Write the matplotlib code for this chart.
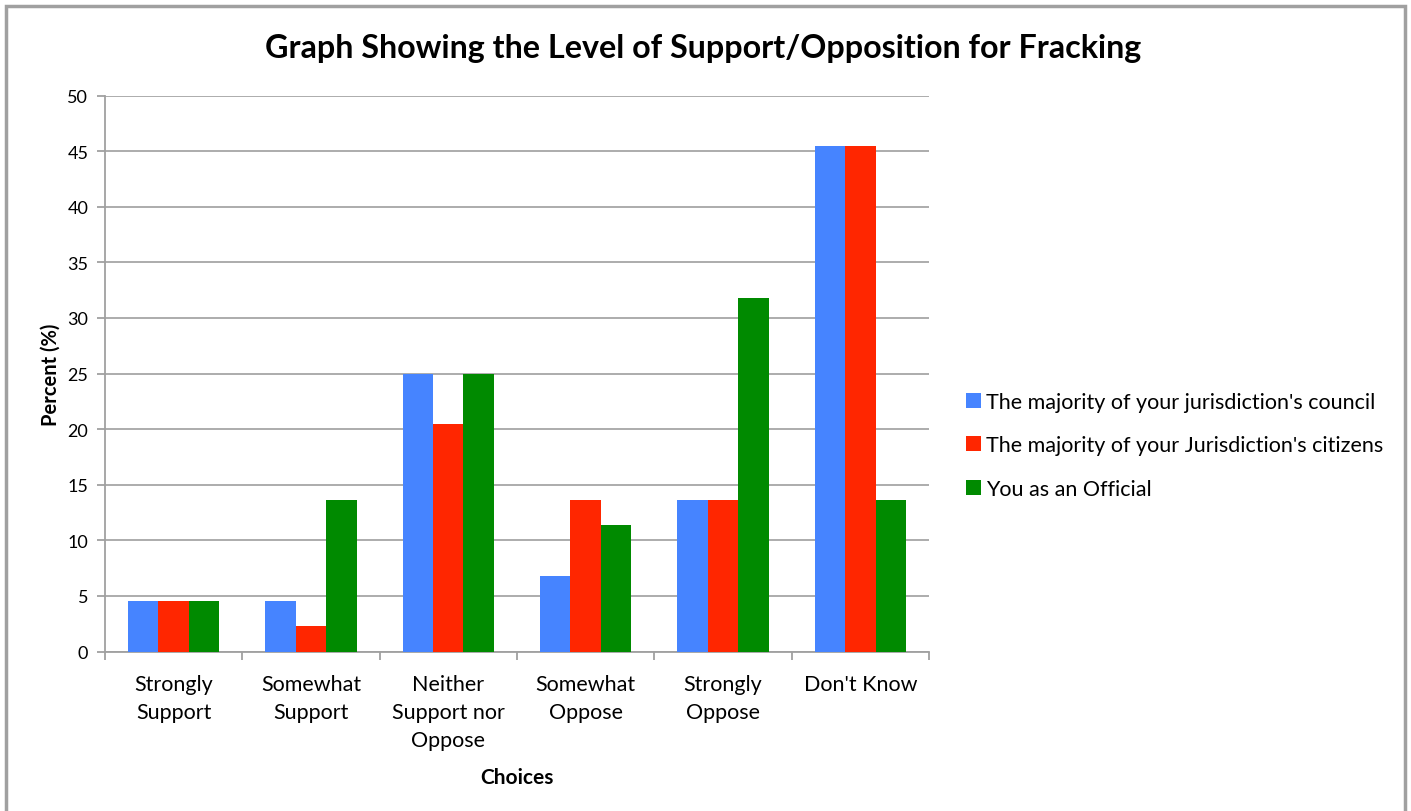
import numpy as np
import matplotlib.pyplot as plt
from matplotlib.patches import Rectangle

plt.rcParams['font.family'] = ['Lato', 'DejaVu Sans']

choices = ["Strongly\nSupport", "Somewhat\nSupport", "Neither\nSupport nor\nOppose",
           "Somewhat\nOppose", "Strongly\nOppose", "Don't Know"]
council = [4.5, 4.5, 25.0, 6.8, 13.6, 45.5]
citizens = [4.5, 2.3, 20.5, 13.6, 13.6, 45.5]
official = [4.5, 13.6, 25.0, 11.4, 31.8, 13.6]
series_names = ["The majority of your jurisdiction's council",
                "The majority of your Jurisdiction's citizens",
                "You as an Official"]
colors = ["#4684FF", "#FF2600", "#008A00"]

fig = plt.figure(figsize=(14.11, 8.12), dpi=100)
fig.patches.append(Rectangle((0.004, -0.01), 0.992, 1.001, transform=fig.transFigure,
                             fill=False, edgecolor="#a0a0a0", linewidth=2.5))

ax = fig.add_axes([0.0744, 0.1964, 0.584, 0.6847])

x = np.arange(len(choices))
w = 0.221
for i, (vals, name, c) in enumerate(zip([council, citizens, official], series_names, colors)):
    ax.bar(x + (i - 1) * w, vals, width=w, color=c, label=name, zorder=3)

ax.set_xlim(-0.5, len(choices) - 0.5)
ax.set_ylim(0, 50)
ax.set_yticks(range(0, 51, 5))
ax.yaxis.grid(True, color="#a6a6a6", linewidth=1.3, zorder=0)

# category boundaries get the tick marks, labels sit at the centres
ax.set_xticks(np.arange(-0.5, len(choices), 1))
ax.set_xticklabels([])
ax.set_xticks(x, minor=True)
ax.set_xticklabels(choices, minor=True, fontsize=15.5, linespacing=1.52)
ax.tick_params(axis="x", which="minor", length=0, pad=16)
ax.tick_params(axis="x", which="major", length=6, width=1.3, color="#a0a0a0")
ax.tick_params(axis="y", length=6, width=1.3, color="#a0a0a0", labelsize=13, pad=6)

for s in ["top", "right"]:
    ax.spines[s].set_visible(False)
for s in ["left", "bottom"]:
    ax.spines[s].set_color("#a0a0a0")
    ax.spines[s].set_linewidth(1.3)

ax.set_ylabel("Percent (%)", fontsize=14.5, fontweight="bold", labelpad=5)
ax.set_xlabel("Choices", fontsize=15, fontweight="bold", labelpad=12)

fig.text(0.498, 0.94, "Graph Showing the Level of Support/Opposition for Fracking",
         ha="center", va="center", fontsize=23.2, fontweight="bold")

ax.legend(loc="center left", bbox_to_anchor=(1.021, 0.371), frameon=False, fontsize=15.5,
          handlelength=0.7, handleheight=0.7, handletextpad=0.25, labelspacing=1.1)

fig.savefig("out.png", dpi=100)
